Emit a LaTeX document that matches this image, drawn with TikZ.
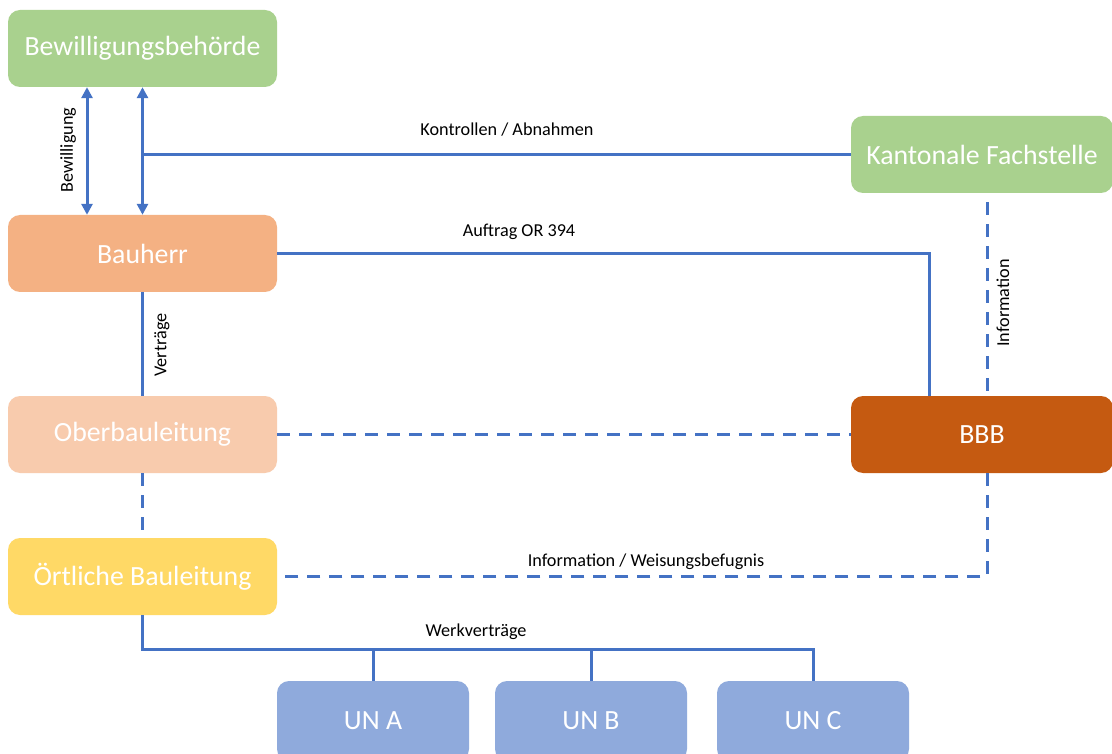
\documentclass[tikz,border=0pt]{standalone}
\usepackage{fontspec}
\setmainfont{Carlito}
\usetikzlibrary{arrows.meta}
\definecolor{cgreen}{HTML}{A9D18E}
\definecolor{corange}{HTML}{F4B183}
\definecolor{clight}{HTML}{F8CBAD}
\definecolor{cdark}{HTML}{C55A11}
\definecolor{cyellow}{HTML}{FFD966}
\definecolor{cblue}{HTML}{8FAADC}
\definecolor{cline}{HTML}{4472C4}
\tikzset{
  box/.style={rounded corners=12pt, minimum width=269pt, minimum height=77pt, text=white,
    font=\fontsize{27.8}{30}\selectfont, inner sep=0pt, draw=none},
  unbox/.style={box, fill=cblue, minimum width=192pt, minimum height=80pt},
  conn/.style={draw=cline, line width=3pt},
  dsh/.style={dash pattern=on 13pt off 9pt},
  lbl/.style={font=\fontsize{18.2}{20}\selectfont, text=black, inner sep=0pt},
  dbl/.style={{Triangle[length=11pt,width=11pt]}-{Triangle[length=11pt,width=11pt]}}
}
\begin{document}
\begin{tikzpicture}[x=1pt,y=-1pt]
\useasboundingbox (0,0) rectangle (1112,754);
\clip (0,0) rectangle (1112,754);
\fill[white] (0,0) rectangle (1112,754);
% nodes
\node[box, fill=cgreen] (bew) at (142.5,48.5) {Bewilligungsbehörde};
\node[box, fill=cgreen, minimum width=262pt] (kan) at (982,154.5) {Kantonale Fachstelle};
\node[box, fill=corange] (bau) at (142.5,253.5) {Bauherr};
\node[box, fill=clight] (ober) at (142.5,434.5) {Oberbauleitung};
\node[box, fill=cdark, minimum width=262pt] (bbb) at (982,434.5) {BBB};
\node[box, fill=cyellow] (oert) at (142.5,576.5) {Örtliche Bauleitung};
\node[unbox] (una) at (373,721) {UN A};
\node[unbox] (unb) at (591,721) {UN B};
\node[unbox] (unc) at (813,721) {UN C};
% helper coordinates
\coordinate (c87) at (87,0);
\coordinate (c929) at (929,0);
\coordinate (c987) at (987,0);
\coordinate (bus) at (813,649);
% connectors
\draw[conn, dbl] (bew.south -| c87) -- (bau.north -| c87);
\draw[conn, dbl] (bew.south) -- (bau.north);
\draw[conn] (kan.west) -- (kan.west -| bau.north);
\draw[conn] (bau.east) -| (c929 |- bbb.north);
\draw[conn, dsh, dash phase=-9pt] (kan.south -| c987) -- (bbb.north -| c987);
\draw[conn] (bau.south) -- (ober.north);
\draw[conn, dsh] (ober.east) -- (bbb.west);
\draw[conn, dsh] (ober.south) -- (oert.north);
\draw[conn, dsh] (bbb.south -| c987) |- (oert.east);
\draw[conn] (oert.south) |- (bus) -- (unc.north);
\draw[conn] (una.north) -- (una.north |- bus);
\draw[conn] (unb.north) -- (unb.north |- bus);
% labels
\node[lbl, rotate=90] (lbew) at (68,150) {Bewilligung};
\node[lbl, rotate=90] (lver) at (162,345) {Verträge};
\node[lbl, rotate=90] (linf) at (1003,303) {Information};
\node[lbl] (lkon) at (507,130) {Kontrollen / Abnahmen};
\node[lbl] (lauf) at (519,232) {Auftrag OR 394};
\node[lbl] (lwei) at (646,562) {Information / Weisungsbefugnis};
\node[lbl] (lwerk) at (476,632) {Werkverträge};
\end{tikzpicture}
\end{document}
